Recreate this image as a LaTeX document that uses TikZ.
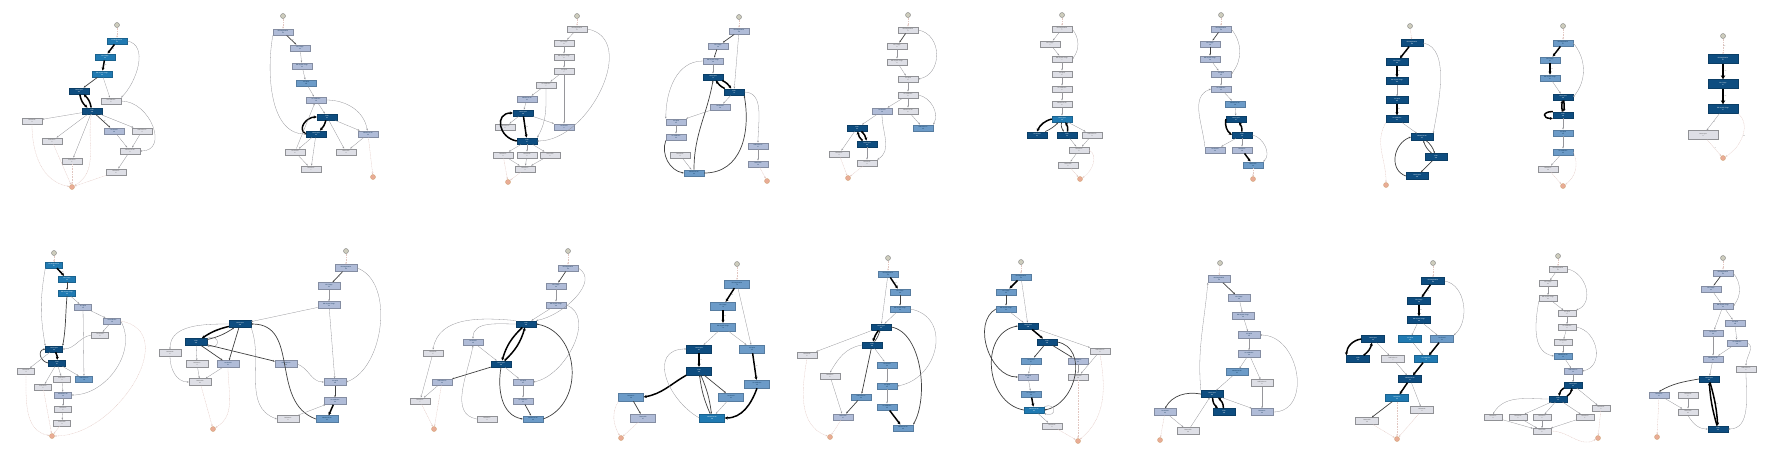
\documentclass[tikz,border=0pt]{standalone}
\usepackage{fontspec}
\setsansfont{Liberation Sans}
\definecolor{navy}{RGB}{14,77,128}
\definecolor{ocean}{RGB}{32,122,178}
\definecolor{sky}{RGB}{108,155,200}
\definecolor{lav}{RGB}{176,188,216}
\definecolor{mist}{RGB}{222,223,230}
\definecolor{edgegray}{RGB}{150,150,155}
\definecolor{faint}{RGB}{225,198,192}
\usetikzlibrary{arrows.meta}

\begin{document}
\begin{tikzpicture}[x=1pt,y=-1pt,
    >={Stealth[length=2pt,width=1.6pt]},
    actsize/.style={minimum width=20pt,minimum height=6.5pt},
    act/.style={draw,rectangle,inner sep=0pt,align=center,actsize,
      font=\sffamily\fontsize{1.5}{1.8}\selectfont},
    nDark/.style={fill=navy,draw=navy!80!black,text=white},
    nBlue/.style={fill=ocean,draw=ocean!80!black,text=white},
    nLight/.style={fill=sky,draw=sky!80!black,text=navy!60!black},
    nLav/.style={fill=lav,draw=lav!75!black,text=navy!60!black},
    nGrey/.style={fill=mist,draw=mist!65!black,text=black!70},
    startc/.style={circle,minimum size=5pt,inner sep=0pt,fill=black!20!yellow!20!gray!50,draw=gray},
    endc/.style={circle,minimum size=5pt,inner sep=0pt,fill=red!30!brown!50,draw=brown!70},
    ln/.style={->,draw=edgegray,line width=0.3pt},
    lnm/.style={->,draw=black!75,line width=0.7pt},
    lnb/.style={->,draw=black,line width=1.5pt,>={Stealth[length=3pt,width=3pt]}},
    lnx/.style={->,draw=black,line width=2.4pt,>={Stealth[length=4pt,width=4.5pt]}},
    lnf/.style={->,draw=faint,line width=0.3pt,dash pattern=on 1pt off 0.6pt},
    el/.style={font=\sffamily\fontsize{1.4}{1.6}\selectfont,text=black!60,inner sep=0.6pt,midway,right}]
\useasboundingbox[fill=white] (0,0) rectangle (1766,464);

% top row, panel 1
\node[startc] (a0) at (117,25) {};
\node[act,nBlue] (a1) at (117,41) {ER Registration\\43};
\node[act,nBlue] (a2) at (105,57) {ER Triage\\43};
\node[act,nBlue] (a3) at (102,74) {ER Sepsis Triage\\43};
\node[act,nDark] (a4) at (79,91) {Leucocytes\\112};
\node[act,nDark] (a5) at (92,111) {CRP\\108};
\node[act,nGrey] (a6) at (111,101) {IV Antibiotics\\5};
\node[act,nGrey] (a7) at (32,121) {Release B\\3};
\node[act,nGrey] (a8) at (52,141) {Release C\\2};
\node[act,nGrey] (a9) at (72,161) {Release D\\1};
\node[act,nLav] (a10) at (114,131) {LacticAcid\\29};
\node[act,nGrey] (a11) at (142,131) {Admission IC\\4};
\node[act,nGrey] (a12) at (130,151) {Admission NC\\9};
\node[act,nGrey] (a13) at (116,172) {Release A\\6};
\node[endc] (az) at (72,187) {};
\draw[lnf] (a0) -- (a1);
\draw[lnb] (a1) -- node[el]{38} (a2);
\draw[lnb] (a2) -- node[el]{39} (a3);
\draw[lnm] (a3) -- node[el]{22} (a4);
\draw[lnb] (a4) to[bend right=20] (a5);
\draw[lnb] (a5) to[bend right=20] (a4);
\draw[ln] (a3) -- (a6);
\draw[ln] (a1.east) to[out=-10,in=45] (a6.north east);
\draw[ln] (a6.east) to[out=0,in=0,looseness=1.4] (a12.east);
\draw[ln] (a5) -- (a7);
\draw[ln] (a5) -- (a8);
\draw[ln] (a5) -- (a9);
\draw[lnm] (a5) -- node[el]{12} (a10);
\draw[ln] (a5) -- (a11);
\draw[ln] (a10) -- (a12);
\draw[ln] (a11) -- (a12);
\draw[ln] (a12) -- (a13);
\draw[lnf] (a13) -- (az);
\draw[lnf] (a7) to[out=-90,in=170] (az);
\draw[lnf] (a8) -- (az);
\draw[lnf] (a9) -- (az);
\draw[lnf] (a5) to[out=-100,in=30] (az);

% top row, panel 2
\node[startc] (b0) at (283,16) {};
\node[act,nLav] (b1) at (283,32) {ER Registration\\21};
\node[act,nLav] (b2) at (300,48) {ER Triage\\21};
\node[act,nLav] (b3) at (302,66) {ER Sepsis Triage\\21};
\node[act,nLight] (b4) at (306,83) {IV Liquid\\18};
\node[act,nLav] (b5) at (316,100) {IV Antibiotics\\19};
\node[act,nDark] (b6) at (327,117) {CRP\\61};
\node[act,nDark] (b7) at (316,134) {Leucocytes\\63};
\node[act,nLav] (b8) at (368,134) {Admission NC\\23};
\node[act,nGrey] (b9) at (295,152) {LacticAcid\\6};
\node[act,nGrey] (b10) at (346,152) {Return ER\\4};
\node[act,nGrey] (b11) at (311,169) {Release A\\7};
\node[endc] (bz) at (373,177) {};
\draw[lnf] (b0) -- (b1);
\draw[lnm] (b1) -- node[el]{17} (b2);
\draw[ln] (b2) -- (b3);
\draw[ln] (b3) -- (b4);
\draw[ln] (b4) -- (b5);
\draw[ln] (b5) -- (b6);
\draw[lnb] (b6) to[bend left=15] (b7);
\draw[lnb] (b7.west) to[out=150,in=180,looseness=1.3] (b6.west);
\draw[ln] (b5.east) to[out=0,in=100] (b8);
\draw[ln] (b6) -- (b8);
\draw[ln] (b7) -- (b9);
\draw[ln] (b9) -- (b5);
\draw[ln] (b9) -- (b11);
\draw[ln] (b7) -- (b11);
\draw[ln] (b1.south west) to[out=-100,in=180,looseness=0.9] (b7.west);
\draw[ln] (b6) -- (b10);
\draw[ln] (b8) -- (b10);
\draw[lnf] (b8) -- (bz);

% top row, panel 3
\node[startc] (c0) at (577,16) {};
\node[act,nGrey] (c1) at (577,29) {ER Registration\\8};
\node[act,nGrey] (c2) at (564,43) {ER Triage\\8};
\node[act,nGrey] (c3) at (564,57) {ER Sepsis Triage\\8};
\node[act,nGrey] (c4) at (564,71) {IV Liquid\\7};
\node[act,nGrey] (c5) at (546,85) {IV Antibiotics\\7};
\node[act,nLav] (c6) at (527,99) {Admission NC\\11};
\node[act,nDark] (c7) at (523,113) {Leucocytes\\38};
\node[act,nGrey] (c8) at (505,127) {Admission IC\\2};
\node[act,nLav] (c9) at (564,127) {LacticAcid\\9};
\node[act,nDark] (c10) at (527,141) {CRP\\37};
\node[act,nGrey] (c11) at (503,155) {Release A\\3};
\node[act,nGrey] (c12) at (527,155) {Release B\\2};
\node[act,nGrey] (c13) at (550,155) {Return ER\\2};
\node[act,nGrey] (c14) at (525,169) {Release C\\4};
\node[endc] (cz) at (508,182) {};
\draw[lnf] (c0) -- (c1);
\draw[ln] (c1) -- (c2);
\draw[ln] (c2) -- (c3);
\draw[ln] (c3) -- (c4);
\draw[ln] (c4) -- (c5);
\draw[ln] (c5) -- (c6);
\draw[ln] (c6) -- (c7);
\draw[lnb] (c7) -- node[el]{24} (c10);
\draw[lnb] (c10.west) to[out=170,in=180,looseness=1.7] (c7.west);
\draw[ln] (c7) -- (c9);
\draw[ln] (c7) -- (c8);
\draw[ln] (c4) -- (c9);
\draw[ln] (c1.east) to[out=-10,in=0,looseness=1.1] (c10.east);
\draw[ln] (c5.south) to[out=-90,in=60] (c10.north east);
\draw[ln] (c10) -- (c11);
\draw[ln] (c10) -- (c12);
\draw[ln] (c10) -- (c13);
\draw[ln] (c11) -- (c14);
\draw[ln] (c12) -- (c14);
\draw[ln] (c13) -- (c14);
\draw[lnf] (c11) -- (cz);
\draw[lnf] (c14) -- (cz);

% top row, panel 4
\node[startc] (d0) at (739,17) {};
\node[act,nLav] (d1) at (739,31) {ER Registration\\26};
\node[act,nLav] (d2) at (718,46) {ER Triage\\26};
\node[act,nLav] (d3) at (713,61) {ER Sepsis Triage\\26};
\node[act,nDark] (d4) at (713,77) {Leucocytes\\71};
\node[act,nDark] (d5) at (734,92) {CRP\\70};
\node[act,nLav] (d6) at (720,107) {LacticAcid\\19};
\node[act,nLav] (d7) at (676,122) {IV Liquid\\21};
\node[act,nLav] (d8) at (676,137) {IV Antibiotics\\22};
\node[act,nGrey] (d9) at (680,155) {Release B\\4};
\node[act,nLav] (d10) at (758,146) {Admission IC\\17};
\node[act,nLav] (d11) at (758,164) {Return ER\\16};
\node[act,nLight] (d12) at (694,173) {Admission NC\\32};
\node[endc] (dz) at (767,181) {};
\draw[lnf] (d0) -- (d1);
\draw[lnm] (d1) -- node[el]{21} (d2);
\draw[lnm] (d2) -- (d3);
\draw[ln] (d3) -- (d4);
\draw[lnb] (d4) to[bend left=15] (d5);
\draw[lnb] (d5) to[bend left=15] (d4);
\draw[ln] (d1) -- (d5);
\draw[ln] (d3.west) to[out=180,in=90] (d7.north west);
\draw[ln] (d5) -- (d6);
\draw[ln] (d6) -- (d7);
\draw[ln] (d7) -- (d8);
\draw[lnm] (d8.south west) to[out=-110,in=170] (d12.west);
\draw[ln] (d9) -- (d12);
\draw[lnm] (d12.north) to[out=90,in=-100] (d4.south);
\draw[lnm] (d12.east) to[out=0,in=-80,looseness=1.1] (d5.south east);
\draw[ln] (d5.east) to[out=0,in=90] (d10.north);
\draw[ln] (d10) -- (d11);
\draw[lnf] (d11) -- (dz);

% top row, panel 5
\node[startc] (e0) at (908,15) {};
\node[act,nGrey] (e1) at (908,30) {ER Registration\\9};
\node[act,nGrey] (e2) at (897,46) {ER Triage\\9};
\node[act,nGrey] (e3) at (897,62) {ER Sepsis Triage\\9};
\node[act,nGrey] (e4) at (908,79) {IV Liquid\\8};
\node[act,nGrey] (e5) at (908,95) {IV Antibiotics\\8};
\node[act,nGrey] (e6) at (908,111) {Admission NC\\6};
\node[act,nLight] (e7) at (923,128) {Admission IC\\14};
\node[act,nLav] (e8) at (882,111) {LacticAcid\\10};
\node[act,nDark] (e9) at (857,128) {CRP\\33};
\node[act,nDark] (e10) at (867,144) {Leucocytes\\34};
\node[act,nGrey] (e11) at (839,154) {Release A\\4};
\node[act,nGrey] (e12) at (867,163) {Release B\\3};
\node[endc] (ez) at (848,178) {};
\draw[lnf] (e0) -- (e1);
\draw[lnm] (e1) -- (e2);
\draw[ln] (e2) -- (e3);
\draw[ln] (e3) -- (e4);
\draw[ln] (e1.east) to[out=-10,in=10,looseness=1.3] (e4.east);
\draw[ln] (e4) -- (e5);
\draw[ln] (e5) -- (e6);
\draw[ln] (e6) -- (e7);
\draw[ln] (e5.east) to[out=-10,in=60] (e7.north east);
\draw[ln] (e5) -- (e8);
\draw[ln] (e8) -- (e9);
\draw[lnb] (e9) to[bend left=20] (e10);
\draw[lnb] (e10) to[bend left=20] (e9);
\draw[ln] (e9) -- (e11);
\draw[ln] (e10) -- (e12);
\draw[ln] (e8.south) to[out=-90,in=30] (e12.north east);
\draw[lnf] (e11) -- (ez);
\draw[lnf] (e12) -- (ez);

% top row, panel 6
\node[startc] (g0) at (1062,15) {};
\node[act,nGrey] (g1) at (1062,29) {ER Registration\\7};
\node[act,nGrey] (g2) at (1050,44) {ER Triage\\7};
\node[act,nGrey] (g3) at (1062,59) {ER Sepsis Triage\\7};
\node[act,nGrey] (g4) at (1062,74) {IV Liquid\\6};
\node[act,nGrey] (g5) at (1062,89) {IV Antibiotics\\6};
\node[act,nGrey] (g6) at (1062,104) {Admission NC\\6};
\node[act,nBlue] (g7) at (1062,119) {Leucocytes\\29};
\node[act,nDark] (g8) at (1037,135) {LacticAcid\\31};
\node[act,nDark] (g9) at (1067,135) {CRP\\30};
\node[act,nGrey] (g10) at (1092,135) {Admission IC\\3};
\node[act,nGrey] (g11) at (1079,150) {Release A\\5};
\node[act,nGrey] (g12) at (1068,165) {Return ER\\2};
\node[endc] (gz) at (1080,179) {};
\draw[lnf] (g0) -- (g1);
\draw[ln] (g1) -- (g2);
\draw[ln] (g2) -- (g3);
\draw[ln] (g1.east) to[bend left=40] (g3.east);
\draw[ln] (g3) -- (g4);
\draw[ln] (g4) -- (g5);
\draw[ln] (g5) -- (g6);
\draw[ln] (g6) -- (g7);
\draw[lnb] (g7.west) to[bend right=25] (g8.north);
\draw[lnm] (g8) to[bend right=10] (g7);
\draw[lnm] (g7) to[bend right=25] (g9);
\draw[lnb] (g9) to[bend right=25] (g7);
\draw[ln] (g7) -- (g10);
\draw[ln] (g9) -- (g11);
\draw[ln] (g10) -- (g11);
\draw[ln] (g11) -- (g12);
\draw[lnf] (g12) -- (gz);
\draw[lnf] (g11.east) to[out=-30,in=30] (gz);

% top row, panel 7
\node[startc] (h0) at (1221,15) {};
\node[act,nLav] (h1) at (1221,29) {ER Registration\\24};
\node[act,nLav] (h2) at (1210,44) {ER Triage\\24};
\node[act,nLav] (h3) at (1210,59) {ER Sepsis Triage\\24};
\node[act,nLav] (h4) at (1221,74) {IV Liquid\\22};
\node[act,nLav] (h5) at (1221,89) {IV Antibiotics\\22};
\node[act,nLight] (h6) at (1235,104) {Admission NC\\28};
\node[act,nDark] (h7) at (1236,119) {Leucocytes\\57};
\node[act,nDark] (h8) at (1242,135) {CRP\\58};
\node[act,nLav] (h9) at (1215,150) {LacticAcid\\20};
\node[act,nLav] (h10) at (1242,150) {Release A\\19};
\node[act,nLight] (h11) at (1253,165) {Return ER\\24};
\node[endc] (hz) at (1253,179) {};
\draw[lnf] (h0) -- (h1);
\draw[lnm] (h1) -- (h2);
\draw[lnm] (h2) -- (h3);
\draw[ln] (h3) -- (h4);
\draw[ln] (h1.east) to[bend left=40] (h4.east);
\draw[ln] (h4) -- (h5);
\draw[ln] (h5) -- (h6);
\draw[ln] (h6) -- (h7);
\draw[lnb] (h7.west) to[bend right=30] (h8.west);
\draw[lnb] (h8) to[bend right=20] (h7);
\draw[ln] (h8) -- (h9);
\draw[ln] (h9.north west) to[out=95,in=-160] (h5.west);
\draw[ln] (h8) -- (h10);
\draw[lnb] (h10) -- (h11);
\draw[ln] (h8.east) to[out=-10,in=40] (h11.north east);
\draw[lnf] (h11) -- (hz);

% top row, panel 8
\begin{scope}[actsize/.style={minimum width=22pt,minimum height=7pt}]
\node[startc] (i0) at (1410,26) {};
\node[act,nDark] (i1) at (1412,43) {ER Registration\\119};
\node[act,nDark] (i2) at (1397,62) {ER Triage\\119};
\node[act,nDark] (i3) at (1397,81) {ER Sepsis Triage\\119};
\node[act,nDark] (i4) at (1397,100) {IV Liquid\\110};
\node[act,nDark] (i5) at (1397,119) {IV Antibiotics\\112};
\node[act,nDark] (i6) at (1422,137) {Admission NC\\127};
\node[act,nDark] (i7) at (1436,157) {CRP\\118};
\node[act,nDark] (i8) at (1417,176) {Leucocytes\\120};
\node[endc] (iz) at (1386,185) {};
\end{scope}
\draw[lnf] (i0) -- (i1);
\draw[lnb] (i1) -- node[el]{96} (i2);
\draw[lnb] (i2) -- node[el]{88} (i3);
\draw[ln] (i3) -- (i4);
\draw[lnb] (i4) -- node[el]{84} (i5);
\draw[ln] (i5) -- (i6);
\draw[ln] (i1.east) to[out=-10,in=80,looseness=0.8] (i6.north east);
\draw[lnm] (i6) to[bend left=15] (i7);
\draw[lnm] (i7) to[bend left=15] (i6);
\draw[lnm] (i7) -- (i8);
\draw[lnm] (i8.west) to[out=160,in=-160,looseness=1.2] (i6.west);
\draw[lnf] (i5.south west) to[out=-120,in=90] (iz);

% top row, panel 9
\node[startc] (j0) at (1563,26) {};
\node[act,nLight] (j1) at (1563,43) {ER Registration\\47};
\node[act,nLight] (j2) at (1550,60) {ER Triage\\47};
\node[act,nLight] (j3) at (1550,78) {ER Sepsis Triage\\47};
\node[act,nDark] (j4) at (1563,97) {Leucocytes\\104};
\node[act,nDark] (j5) at (1563,115) {CRP\\106};
\node[act,nLight] (j6) at (1563,133) {IV Liquid\\43};
\node[act,nLight] (j7) at (1563,152) {IV Antibiotics\\44};
\node[act,nGrey] (j8) at (1548,169) {Release A\\12};
\node[endc] (jz) at (1563,186) {};
\draw[lnf] (j0) -- (j1);
\draw[lnb] (j1) -- node[el]{36} (j2);
\draw[lnb] (j2) -- node[el]{40} (j3);
\draw[ln] (j3) -- (j4);
\draw[ln] (j1.east) to[bend left=40] (j4.east);
\draw[lnb] (j4) to[bend left=10] (j5);
\draw[lnb] (j5) to[bend left=10] (j4);
\draw[lnb] (j5.north west) to[out=180,in=180,looseness=4] (j5.south west);
\draw[ln] (j5) -- (j6);
\draw[ln] (j6) -- (j7);
\draw[ln] (j7) -- (j8);
\draw[lnf] (j8) -- (jz);
\draw[lnf] (j7.east) to[bend left=40] (jz);

% top row, panel 10
\begin{scope}[actsize/.style={minimum width=30pt,minimum height=9pt}]
\node[startc] (k0) at (1723,36) {};
\node[act,nDark] (k1) at (1723,59) {ER Registration\\57};
\node[act,nDark] (k2) at (1723,84) {ER Triage\\57};
\node[act,nDark] (k3) at (1723,109) {ER Sepsis Triage\\57};
\node[act,nGrey] (k4) at (1703,135) {Leucocytes\\3};
\node[endc] (kz) at (1723,158) {};
\end{scope}
\draw[lnf] (k0) -- node[el]{57} (k1);
\draw[lnx] (k1) -- node[el]{57} (k2);
\draw[lnx] (k2) -- node[el]{57} (k3);
\draw[ln] (k3) -- node[el]{3} (k4);
\draw[lnf] (k4) -- node[el]{3} (kz);
\draw[lnf] (k3.south east) to[out=-40,in=30] node[el]{54} (kz);

% bottom row, panel 1
\begin{scope}[actsize/.style={minimum width=17pt,minimum height=6pt}]
\node[startc] (l0) at (54,253) {};
\node[act,nBlue] (l1) at (54,265) {ER Registration\\35};
\node[act,nBlue] (l2) at (67,279) {ER Triage\\35};
\node[act,nBlue] (l3) at (67,293) {ER Sepsis Triage\\35};
\node[act,nLav] (l4) at (83,307) {IV Liquid\\15};
\node[act,nLav] (l5) at (112,321) {IV Antibiotics\\15};
\node[act,nGrey] (l6) at (100,335) {LacticAcid\\6};
\node[act,nDark] (l7) at (54,349) {Leucocytes\\64};
\node[act,nDark] (l8) at (57,363) {CRP\\62};
\node[act,nGrey] (l9) at (26,371) {Release B\\4};
\node[act,nGrey] (l10) at (62,379) {Release C\\3};
\node[act,nLight] (l11) at (84,379) {Admission IC\\18};
\node[act,nGrey] (l12) at (43,387) {Release D\\2};
\node[act,nLav] (l13) at (63,395) {Admission NC\\12};
\node[act,nGrey] (l14) at (63,409) {Release A\\5};
\node[act,nGrey] (l15) at (62,423) {Return ER\\3};
\node[endc] (lz) at (52,436) {};
\end{scope}
\draw[lnf] (l0) -- (l1);
\draw[lnb] (l1) -- node[el]{30} (l2);
\draw[lnm] (l2) -- (l3);
\draw[ln] (l3) -- (l4);
\draw[ln] (l4) -- (l5);
\draw[ln] (l5) -- (l6);
\draw[lnm] (l3.south) to[out=-95,in=80] (l7.north east);
\draw[ln] (l1.south west) to[out=-100,in=100] (l7.north west);
\draw[ln] (l6.west) to[out=-170,in=0] (l7.east);
\draw[lnb] (l7) to[bend left=15] (l8);
\draw[lnm] (l8.west) to[out=170,in=-170,looseness=1.5] (l7.west);
\draw[ln] (l7) -- (l9);
\draw[ln] (l8) -- (l10);
\draw[ln] (l8) -- (l11);
\draw[ln] (l4) -- (l11);
\draw[ln] (l8) -- (l12);
\draw[ln] (l10) -- (l13);
\draw[ln] (l5.east) to[out=-60,in=0] (l13.east);
\draw[ln] (l13) -- (l14);
\draw[ln] (l14) -- (l15);
\draw[lnf] (l9.south) to[out=-90,in=170] (lz);
\draw[lnf] (l12) -- (lz);
\draw[lnf] (l15) -- (lz);
\draw[lnf] (l5.east) to[out=-10,in=0,looseness=1.2] (lz.east);

% bottom row, panel 2
\begin{scope}[actsize/.style={minimum width=22pt,minimum height=7pt}]
\node[startc] (m0) at (346,251) {};
\node[act,nLav] (m1) at (346,268) {ER Registration\\52};
\node[act,nLav] (m2) at (329,286) {ER Triage\\52};
\node[act,nLav] (m3) at (329,305) {ER Sepsis Triage\\52};
\node[act,nDark] (m4) at (240,324) {Leucocytes\\146};
\node[act,nDark] (m5) at (196,342) {CRP\\141};
\node[act,nGrey] (m6) at (170,353) {Release B\\6};
\node[act,nGrey] (m7) at (197,364) {Release C\\4};
\node[act,nLav] (m8) at (228,364) {LacticAcid\\41};
\node[act,nLav] (m9) at (286,364) {Admission IC\\39};
\node[act,nGrey] (m10) at (200,382) {Return ER\\11};
\node[act,nLav] (m11) at (335,382) {IV Liquid\\48};
\node[act,nLav] (m12) at (335,401) {IV Antibiotics\\49};
\node[act,nGrey] (m13) at (288,419) {Release A\\9};
\node[act,nLight] (m14) at (327,419) {Admission NC\\62};
\node[endc] (mz) at (213,429) {};
\end{scope}
\draw[lnf] (m0) -- (m1);
\draw[lnm] (m1) -- node[el]{41} (m2);
\draw[ln] (m2) -- (m3);
\draw[ln] (m3) -- (m4);
\draw[lnb] (m4) to[bend right=10] (m5);
\draw[lnm] (m5) to[bend right=10] (m4);
\draw[ln] (m5.north east) to[out=20,in=-20,looseness=5] (m5.south east);
\draw[lnm] (m4) -- (m8);
\draw[lnm] (m5) -- (m8);
\draw[lnm] (m5) -- (m9);
\draw[ln] (m5) -- (m7);
\draw[ln] (m4.west) to[out=180,in=90] (m6.north);
\draw[ln] (m6.south) to[out=-90,in=180] (m10.west);
\draw[ln] (m7) -- (m10);
\draw[ln] (m8) -- (m10);
\draw[ln] (m9.east) to[out=-20,in=180] (m11.west);
\draw[ln] (m3) -- (m11);
\draw[ln] (m1.east) to[out=-20,in=20,looseness=0.9] (m11.east);
\draw[lnm] (m11) -- (m12);
\draw[lnb] (m12) -- (m14);
\draw[lnm] (m14.west) to[out=160,in=0,looseness=1.1] (m4.east);
\draw[ln] (m4.south east) to[out=-70,in=160] (m13.west);
\draw[ln] (m13) -- (m12);
\draw[lnf] (m10) -- (mz);
\draw[lnf] (m8.south) to[out=-90,in=30] (mz);

% bottom row, panel 3
\node[startc] (n0) at (568,251) {};
\node[act,nLav] (n1) at (568,268) {ER Registration\\36};
\node[act,nLav] (n2) at (556,286) {ER Triage\\36};
\node[act,nLav] (n3) at (556,305) {ER Sepsis Triage\\36};
\node[act,nDark] (n4) at (526,324) {CRP\\102};
\node[act,nDark] (n5) at (501,364) {Leucocytes\\104};
\node[act,nLav] (n6) at (473,342) {LacticAcid\\25};
\node[act,nGrey] (n7) at (433,353) {Release B\\5};
\node[act,nLav] (n8) at (442,382) {Admission IC\\22};
\node[act,nGrey] (n9) at (420,401) {Release A\\7};
\node[act,nLav] (n10) at (523,382) {IV Liquid\\31};
\node[act,nLav] (n11) at (523,401) {IV Antibiotics\\31};
\node[act,nLight] (n12) at (533,419) {Admission NC\\44};
\node[act,nGrey] (n13) at (487,419) {Release C\\3};
\node[endc] (nz) at (434,429) {};
\draw[lnf] (n0) -- (n1);
\draw[lnm] (n1) -- (n2);
\draw[ln] (n2) -- (n3);
\draw[ln] (n3) -- (n4);
\draw[lnb] (n4) to[bend right=15] (n5);
\draw[lnb] (n5) to[bend right=15] (n4);
\draw[lnm] (n5) -- (n8);
\draw[ln] (n4.west) to[out=180,in=90] (n6.north);
\draw[ln] (n6) -- (n5);
\draw[ln] (n4.north west) to[out=175,in=80] (n7.north);
\draw[ln] (n7) -- (n9);
\draw[ln] (n8) -- (n9);
\draw[lnf] (n9) -- (nz);
\draw[lnf] (n8) -- (nz);
\draw[ln] (n5) -- (n10);
\draw[ln] (n10) -- (n11);
\draw[lnm] (n11) -- (n12);
\draw[lnm] (n12.east) to[out=20,in=-10,looseness=1.2] (n4.east);
\draw[ln] (n3.east) to[out=-20,in=10] (n10.east);
\draw[ln] (n1.east) to[out=-30,in=10] (n4.north east);
\draw[ln] (n13.west) to[out=170,in=-100] (n6.south);
\draw[lnm] (n5.south) to[out=-100,in=170] (n12.west);

% bottom row, panel 4
\begin{scope}[actsize/.style={minimum width=25pt,minimum height=8pt}]
\node[startc] (o0) at (737,264) {};
\node[act,nLight] (o1) at (737,284) {ER Registration\\76};
\node[act,nLight] (o2) at (723,306) {ER Triage\\76};
\node[act,nLight] (o3) at (723,327) {ER Sepsis Triage\\76};
\node[act,nDark] (o4) at (699,349) {Leucocytes\\167};
\node[act,nLight] (o5) at (752,349) {IV Liquid\\63};
\node[act,nDark] (o6) at (699,371) {CRP\\165};
\node[act,nLight] (o7) at (757,384) {IV Antibiotics\\64};
\node[act,nLight] (o8) at (631,397) {Release A\\58};
\node[act,nLight] (o9) at (731,397) {LacticAcid\\61};
\node[act,nLav] (o10) at (643,418) {Return ER\\37};
\node[act,nBlue] (o11) at (712,418) {Admission NC\\98};
\node[endc] (oz) at (621,438) {};
\end{scope}
\draw[lnf] (o0) -- (o1);
\draw[lnb] (o1) -- node[el]{68} (o2);
\draw[lnb] (o2) -- node[el]{66} (o3);
\draw[ln] (o3) -- (o4);
\draw[ln] (o3) -- (o5);
\draw[ln] (o1) -- (o5);
\draw[lnb] (o4) -- node[el]{71} (o6);
\draw[lnb] (o6.south west) to[out=-150,in=10] (o8.east);
\draw[lnm] (o6) -- (o9);
\draw[lnm] (o6) to[bend left=8] (o11);
\draw[lnm] (o11) to[bend left=8] (o6);
\draw[ln] (o11.west) to[out=150,in=180,looseness=1.4] (o4.west);
\draw[lnb] (o5) -- node[el]{52} (o7);
\draw[lnb] (o7.south) to[out=-110,in=0] (o11.east);
\draw[ln] (o9) -- (o11);
\draw[lnm] (o8) -- (o10);
\draw[lnf] (o8.south west) to[out=-120,in=120] (oz);
\draw[lnf] (o10) -- (oz);

% bottom row, panel 5
\node[startc] (p0) at (888,258) {};
\node[act,nLight] (p1) at (888,274) {ER Registration\\49};
\node[act,nLight] (p2) at (900,292) {ER Triage\\49};
\node[act,nLight] (p3) at (900,309) {ER Sepsis Triage\\49};
\node[act,nDark] (p4) at (881,327) {Leucocytes\\121};
\node[act,nDark] (p5) at (872,345) {CRP\\118};
\node[act,nGrey] (p6) at (807,355) {Release B\\6};
\node[act,nGrey] (p7) at (830,376) {Release C\\5};
\node[act,nLight] (p8) at (887,365) {LacticAcid\\43};
\node[act,nLight] (p9) at (887,386) {IV Liquid\\45};
\node[act,nLight] (p10) at (887,407) {IV Antibiotics\\45};
\node[act,nLight] (p11) at (861,397) {Admission IC\\40};
\node[act,nLav] (p12) at (843,417) {Return ER\\27};
\node[act,nLight] (p13) at (903,428) {Admission NC\\56};
\node[endc] (pz) at (830,437) {};
\draw[lnf] (p0) -- (p1);
\draw[lnb] (p1) -- node[el]{44} (p2);
\draw[lnm] (p2) -- (p3);
\draw[ln] (p3) -- (p4);
\draw[ln] (p1) -- (p4);
\draw[lnb] (p4) to[bend right=10] (p5);
\draw[lnm] (p5) to[bend right=10] (p4);
\draw[ln] (p4) -- (p6);
\draw[ln] (p5.west) to[out=-170,in=60] (p7.north);
\draw[ln] (p5) -- (p8);
\draw[ln] (p8) -- (p9);
\draw[ln] (p9) -- (p10);
\draw[lnb] (p10) -- (p13);
\draw[lnm] (p5) -- (p11);
\draw[lnm] (p11) -- (p12);
\draw[ln] (p7) -- (p12);
\draw[lnf] (p12) -- (pz);
\draw[lnf] (p6.south) to[out=-100,in=160] (pz);
\draw[ln] (p3.east) to[out=-10,in=10,looseness=1.4] (p9.east);
\draw[lnm] (p4.east) to[out=-10,in=60,looseness=0.8] (p13.north east);

% bottom row, panel 6
\node[startc] (q0) at (1021,262) {};
\node[act,nLight] (q1) at (1021,277) {ER Registration\\53};
\node[act,nLight] (q2) at (1006,292) {ER Triage\\53};
\node[act,nLight] (q3) at (1006,309) {ER Sepsis Triage\\53};
\node[act,nDark] (q4) at (1028,326) {Leucocytes\\138};
\node[act,nDark] (q5) at (1047,342) {CRP\\135};
\node[act,nLight] (q6) at (1031,361) {LacticAcid\\47};
\node[act,nLav] (q7) at (1028,377) {IV Liquid\\33};
\node[act,nLight] (q8) at (1031,394) {IV Antibiotics\\46};
\node[act,nBlue] (q9) at (1034,410) {Admission NC\\83};
\node[act,nLav] (q10) at (1078,361) {Release A\\31};
\node[act,nGrey] (q11) at (1078,377) {Return ER\\16};
\node[act,nGrey] (q12) at (1100,351) {Admission IC\\8};
\node[act,nGrey] (q13) at (1052,426) {Release B\\9};
\node[endc] (qz) at (1078,441) {};
\draw[lnf] (q0) -- (q1);
\draw[lnb] (q1) -- node[el]{45} (q2);
\draw[lnm] (q2) -- (q3);
\draw[ln] (q3) -- (q4);
\draw[ln] (q1) -- (q4);
\draw[lnb] (q4) -- (q5);
\draw[lnm] (q5) -- (q6);
\draw[ln] (q6) -- (q7);
\draw[lnm] (q3.west) to[out=-150,in=180] (q7.west);
\draw[ln] (q7) -- (q8);
\draw[lnb] (q8) -- (q9);
\draw[lnm] (q9.west) to[out=170,in=-170,looseness=1.2] (q4.west);
\draw[lnm] (q5.east) to[out=-10,in=10,looseness=1.2] (q9.east);
\draw[ln] (q9.north east) to[out=20,in=-20,looseness=5] (q9.south east);
\draw[lnm] (q5) -- (q10);
\draw[ln] (q4) -- (q12);
\draw[ln] (q10) -- (q11);
\draw[ln] (q12) -- (q11);
\draw[ln] (q9) -- (q13);
\draw[lnf] (q11) -- (qz);
\draw[lnf] (q13) -- (qz);
\draw[lnf] (q12.south) to[out=-80,in=40] (qz);

% bottom row, panel 7
\begin{scope}[actsize/.style={minimum width=22pt,minimum height=7pt}]
\node[startc] (r0) at (1220,263) {};
\node[act,nLav] (r1) at (1219,279) {ER Registration\\39};
\node[act,nLav] (r2) at (1239,298) {ER Triage\\39};
\node[act,nLav] (r3) at (1243,316) {ER Sepsis Triage\\39};
\node[act,nLav] (r4) at (1249,335) {IV Liquid\\36};
\node[act,nLav] (r5) at (1249,354) {IV Antibiotics\\36};
\node[act,nLight] (r6) at (1237,372) {Admission NC\\41};
\node[act,nGrey] (r7) at (1262,383) {Admission IC\\8};
\node[act,nDark] (r8) at (1212,394) {Leucocytes\\112};
\node[act,nDark] (r9) at (1224,412) {CRP\\109};
\node[act,nLav] (r10) at (1165,412) {LacticAcid\\33};
\node[act,nGrey] (r11) at (1188,431) {Return ER\\12};
\node[act,nLav] (r12) at (1262,412) {Release A\\30};
\node[endc] (rz) at (1160,440) {};
\end{scope}
\draw[lnf] (r0) -- (r1);
\draw[lnm] (r1) -- (r2);
\draw[ln] (r2) -- (r3);
\draw[ln] (r3) -- (r4);
\draw[ln] (r4) -- (r5);
\draw[ln] (r5) -- (r6);
\draw[ln] (r5) -- (r7);
\draw[ln] (r6) -- (r8);
\draw[lnb] (r8) to[bend right=25] (r9);
\draw[lnb] (r9) to[bend right=25] (r8);
\draw[lnm] (r8.west) to[out=170,in=60] (r10.north);
\draw[ln] (r10) -- (r11);
\draw[ln] (r11) -- (r8);
\draw[ln] (r8) -- (r12);
\draw[ln] (r7) -- (r12);
\draw[ln] (r12.east) to[out=0,in=0,looseness=1.3] (r4.east);
\draw[ln] (r8.north west) to[out=95,in=-95] (r1.south west);
\draw[lnf] (r10) -- (rz);

% bottom row, panel 8
\begin{scope}[actsize/.style={minimum width=23pt,minimum height=7pt}]
\node[startc] (s0) at (1433,263) {};
\node[act,nDark] (s1) at (1433,281) {ER Registration\\88};
\node[act,nDark] (s2) at (1419,301) {ER Triage\\88};
\node[act,nDark] (s3) at (1419,320) {ER Sepsis Triage\\88};
\node[act,nBlue] (s4) at (1410,339) {IV Liquid\\62};
\node[act,nLight] (s5) at (1442,339) {LacticAcid\\41};
\node[act,nDark] (s6) at (1373,339) {Leucocytes\\96};
\node[act,nDark] (s7) at (1358,359) {CRP\\94};
\node[act,nGrey] (s8) at (1393,359) {Admission IC\\7};
\node[act,nBlue] (s9) at (1426,359) {IV Antibiotics\\70};
\node[act,nDark] (s10) at (1410,379) {Admission NC\\91};
\node[act,nBlue] (s11) at (1397,398) {Release A\\66};
\node[act,nGrey] (s12) at (1422,410) {Release B\\9};
\node[act,nGrey] (s13) at (1367,421) {Return ER\\12};
\node[endc] (sz) at (1397,439) {};
\end{scope}
\draw[lnf] (s0) -- (s1);
\draw[lnb] (s1) -- node[el]{79} (s2);
\draw[lnb] (s2) -- node[el]{80} (s3);
\draw[ln] (s3) -- (s4);
\draw[ln] (s3) -- (s5);
\draw[ln] (s1.east) to[out=-10,in=40] (s5.north east);
\draw[ln] (s4) -- (s9);
\draw[lnb] (s5) -- (s9);
\draw[lnb] (s9) -- (s10);
\draw[lnb] (s6.west) to[bend right=40] (s7.north west);
\draw[lnb] (s7) to[bend right=20] (s6);
\draw[ln] (s6) -- (s8);
\draw[ln] (s8) -- (s10);
\draw[lnb] (s10) -- (s11);
\draw[ln] (s10) -- (s12);
\draw[lnm] (s11) -- (s13);
\draw[lnf] (s13) -- (sz);
\draw[lnf] (s11) -- (sz);
\draw[lnf] (s12) -- (sz);

% bottom row, panel 9
\begin{scope}[actsize/.style={minimum width=18pt,minimum height=5.5pt}]
\node[startc] (t0) at (1558,256) {};
\node[act,nGrey] (t1) at (1558,269) {ER Registration\\11};
\node[act,nGrey] (t2) at (1548,283) {ER Triage\\11};
\node[act,nGrey] (t3) at (1548,298) {ER Sepsis Triage\\11};
\node[act,nGrey] (t4) at (1567,313) {IV Liquid\\9};
\node[act,nGrey] (t5) at (1567,327) {IV Antibiotics\\9};
\node[act,nGrey] (t6) at (1563,342) {LacticAcid\\7};
\node[act,nLight] (t7) at (1563,356) {Admission NC\\15};
\node[act,nLav] (t8) at (1573,371) {Admission IC\\12};
\node[act,nDark] (t9) at (1573,385) {Leucocytes\\34};
\node[act,nDark] (t10) at (1558,399) {CRP\\33};
\node[act,nGrey] (t11) at (1493,417) {Release A\\3};
\node[act,nGrey] (t12) at (1518,417) {Release B\\2};
\node[act,nGrey] (t13) at (1542,417) {Release C\\2};
\node[act,nGrey] (t14) at (1585,417) {Release D\\1};
\node[act,nGrey] (t15) at (1601,408) {Release E\\2};
\node[act,nGrey] (t16) at (1542,431) {Return ER\\5};
\node[endc] (tz) at (1598,438) {};
\end{scope}
\draw[lnf] (t0) -- (t1);
\draw[ln] (t1) -- (t2);
\draw[ln] (t2) -- (t3);
\draw[ln] (t1.east) to[out=-10,in=20,looseness=1.2] (t4.north east);
\draw[ln] (t3) -- (t4);
\draw[ln] (t4) -- (t5);
\draw[ln] (t5) -- (t6);
\draw[ln] (t6) -- (t7);
\draw[ln] (t3.south west) to[out=-100,in=170] (t7.west);
\draw[ln] (t5.east) to[out=-10,in=10,looseness=1.3] (t8.east);
\draw[ln] (t7) -- (t8);
\draw[ln] (t8) -- (t9);
\draw[lnb] (t9) to[bend right=25] (t10);
\draw[lnb] (t10) to[bend right=25] (t9);
\draw[ln] (t10.west) to[out=180,in=60] (t11.north);
\draw[ln] (t10) -- (t12);
\draw[ln] (t10) -- (t13);
\draw[ln] (t10) -- (t14);
\draw[ln] (t9) -- (t15);
\draw[ln] (t11) -- (t16);
\draw[ln] (t12) -- (t16);
\draw[ln] (t13) -- (t16);
\draw[ln] (t14) -- (t16);
\draw[lnf] (t15) -- (tz);
\draw[lnf] (t16.east) to[out=0,in=-150] (tz);

% bottom row, panel 10
\node[startc] (u0) at (1723,258) {};
\node[act,nLav] (u1) at (1723,273) {ER Registration\\42};
\node[act,nLav] (u2) at (1711,289) {ER Triage\\42};
\node[act,nLav] (u3) at (1723,306) {ER Sepsis Triage\\42};
\node[act,nLav] (u4) at (1735,323) {IV Liquid\\28};
\node[act,nLav] (u5) at (1713,333) {LacticAcid\\24};
\node[act,nLav] (u6) at (1737,343) {IV Antibiotics\\29};
\node[act,nLav] (u7) at (1713,359) {Admission NC\\31};
\node[act,nGrey] (u8) at (1746,369) {Admission IC\\6};
\node[act,nDark] (u9) at (1709,379) {Leucocytes\\118};
\node[act,nLav] (u10) at (1659,395) {Release A\\27};
\node[act,nGrey] (u11) at (1688,395) {Release B\\5};
\node[act,nGrey] (u12) at (1688,412) {Return ER\\11};
\node[act,nDark] (u13) at (1718,429) {CRP\\116};
\node[endc] (uz) at (1657,437) {};
\draw[lnf] (u0) -- (u1);
\draw[lnm] (u1) -- (u2);
\draw[ln] (u2) -- (u3);
\draw[ln] (u1.east) to[bend left=40] (u3.east);
\draw[ln] (u3) -- (u4);
\draw[ln] (u3) -- (u5);
\draw[ln] (u4) -- (u6);
\draw[ln] (u6) -- (u7);
\draw[ln] (u5) -- (u7);
\draw[ln] (u7) -- (u9);
\draw[ln] (u6.east) to[out=-20,in=90] (u8.north);
\draw[lnm] (u9.west) to[out=-170,in=30] (u10.north);
\draw[lnb] (u9) to[bend left=6] node[el]{84} (u13);
\draw[lnb] (u13) to[bend left=6] (u9);
\draw[ln] (u10) -- (u12);
\draw[ln] (u11) -- (u12);
\draw[ln] (u12.south) to[out=-60,in=180] (u13.west);
\draw[ln] (u8.south) to[out=-90,in=0] (u13.east);
\draw[lnf] (u10) -- (uz);
\end{tikzpicture}
\end{document}
